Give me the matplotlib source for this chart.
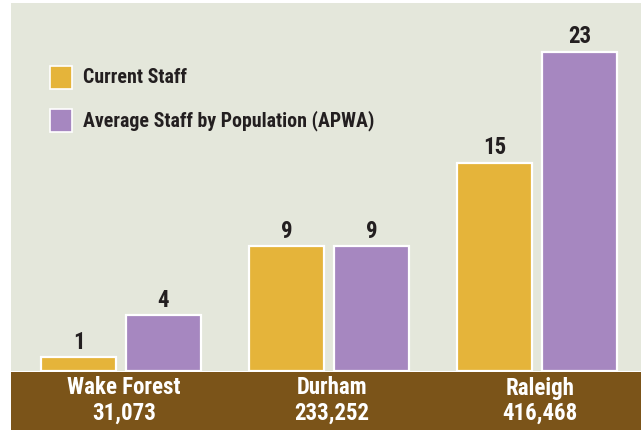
import matplotlib
matplotlib.use("Agg")
import matplotlib.pyplot as plt
from matplotlib.patches import Rectangle
from matplotlib import font_manager

cities = ["Wake Forest", "Durham", "Raleigh"]
populations = ["31,073", "233,252", "416,468"]
current_staff = [1, 9, 15]
apwa_staff = [4, 9, 23]
series_names = ["Current Staff", "Average Staff by Population (APWA)"]

GOLD = "#E5B43A"
PURPLE = "#A687C0"
PANEL = "#E4E7DB"
BROWN = "#7B5419"
INK = "#231F20"

names = {f.name for f in font_manager.fontManager.ttflist}
FONT = "DejaVu Sans"
for cand in ("Roboto Condensed", "PT Sans Narrow", "Liberation Sans Narrow"):
    if cand in names:
        FONT = cand
        break

W, H = 641, 430
fig = plt.figure(figsize=(W / 100, H / 100), dpi=100)
fig.patch.set_facecolor("white")


def fx(px):
    return px / W


def fy(py):
    return 1 - py / H


# plotting panel
ax = fig.add_axes([fx(11), fy(371), fx(630), (371 - 3) / H])
ax.set_facecolor(PANEL)
for s in ax.spines.values():
    s.set_visible(False)
ax.set_xticks([])
ax.set_yticks([])
ax.set_xlim(-0.529, 2.5)
ax.set_ylim(0, 26.5)

xs = list(range(len(cities)))
off = 0.204
bw = 0.36
b1 = ax.bar([x - off for x in xs], current_staff, width=bw, color=GOLD,
            edgecolor="white", linewidth=1.6, clip_on=False, zorder=2)
b2 = ax.bar([x + off for x in xs], apwa_staff, width=bw, color=PURPLE,
            edgecolor="white", linewidth=1.6, clip_on=False, zorder=2)

for bars, vals in ((b1, current_staff), (b2, apwa_staff)):
    for rect, v in zip(bars, vals):
        ax.annotate(str(v), (rect.get_x() + rect.get_width() / 2, v),
                    xytext=(0, 6), textcoords="offset points",
                    ha="center", va="baseline", fontsize=16.5,
                    fontweight="bold", family=FONT, color=INK)

# legend
for (name, col, yc) in ((series_names[0], GOLD, 77.5), (series_names[1], PURPLE, 120.5)):
    fig.patches.append(Rectangle((fx(50), fy(yc + 11.5)), fx(22), 23 / H,
                                 transform=fig.transFigure, facecolor=col,
                                 edgecolor="white", linewidth=1.2))
    fig.text(fx(83), fy(yc), name, ha="left", va="center", fontsize=14.3,
             fontweight="bold", family=FONT, color=INK)

# category band
fig.patches.append(Rectangle((fx(11), 0), fx(630), (430 - 372) / H,
                             transform=fig.transFigure, facecolor=BROWN,
                             edgecolor="none", zorder=0))
for x, city, pop in zip(xs, cities, populations):
    xf = ax.transData.transform((x, 0))[0] / W + fx(3)
    fig.text(xf, fy(388), city, ha="center", va="center", fontsize=16.5,
             fontweight="bold", family=FONT, color="white")
    fig.text(xf, fy(413), pop, ha="center", va="center", fontsize=16.5,
             fontweight="bold", family=FONT, color="white")

fig.savefig("out.png", dpi=100, facecolor="white")
